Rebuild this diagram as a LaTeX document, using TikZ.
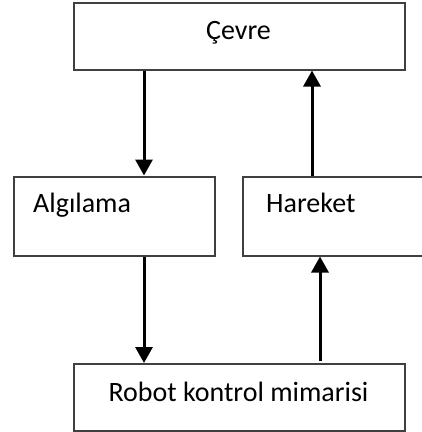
\documentclass[tikz,border=0pt]{standalone}
\usepackage{fontspec}
\setmainfont{Carlito}
\usetikzlibrary{arrows.meta}

\tikzset{
  box/.style={draw=black!75, line width=2pt, rectangle, inner sep=0pt, fill=white},
  lbl/.style={font=\fontsize{28}{32}\selectfont, text=black, inner sep=0pt},
  flow/.style={draw=black, line width=3pt,
    -{Triangle[width=17pt,length=16pt]}, shorten >=0pt},
}

\begin{document}
\begin{tikzpicture}[x=1pt, y=-1pt]
  \useasboundingbox (0,0) rectangle (422,432);
  \clip (0,0) rectangle (422,432);

  % blocks (the right-hand block runs past the right margin)
  \node[box, minimum width=331pt, minimum height=67pt, anchor=north west]
    (cevre) at (73,1.5) {};
  \node[box, minimum width=201pt, minimum height=79pt, anchor=north west]
    (algilama) at (13,175.5) {};
  \node[box, minimum width=260pt, minimum height=79pt, anchor=north west]
    (hareket) at (242,175.5) {};
  \node[box, minimum width=331pt, minimum height=67pt, anchor=north west]
    (robot) at (73,363) {};

  % labels
  \node[lbl, anchor=base] (tcevre) at (238.5,39) {Çevre};
  \node[lbl, anchor=base west] (talgilama) at (33,212) {Algılama};
  \node[lbl, anchor=base west] (thareket) at (266,212) {Hareket};
  \node[lbl, anchor=base] (trobot) at (238.5,401) {Robot kontrol mimarisi};

  % connector columns
  \coordinate (colL) at (144,0);
  \coordinate (colRtop) at (312,0);
  \coordinate (colRbot) at (320,0);

  % connectors
  \draw[flow] (cevre.south -| colL) -- (algilama.north -| colL);
  \draw[flow] (algilama.south -| colL) -- (robot.north -| colL);
  \draw[flow] ([yshift=2pt]robot.north -| colRbot) -- (hareket.south -| colRbot);
  \draw[flow] (hareket.north -| colRtop) -- (cevre.south -| colRtop);
\end{tikzpicture}
\end{document}
